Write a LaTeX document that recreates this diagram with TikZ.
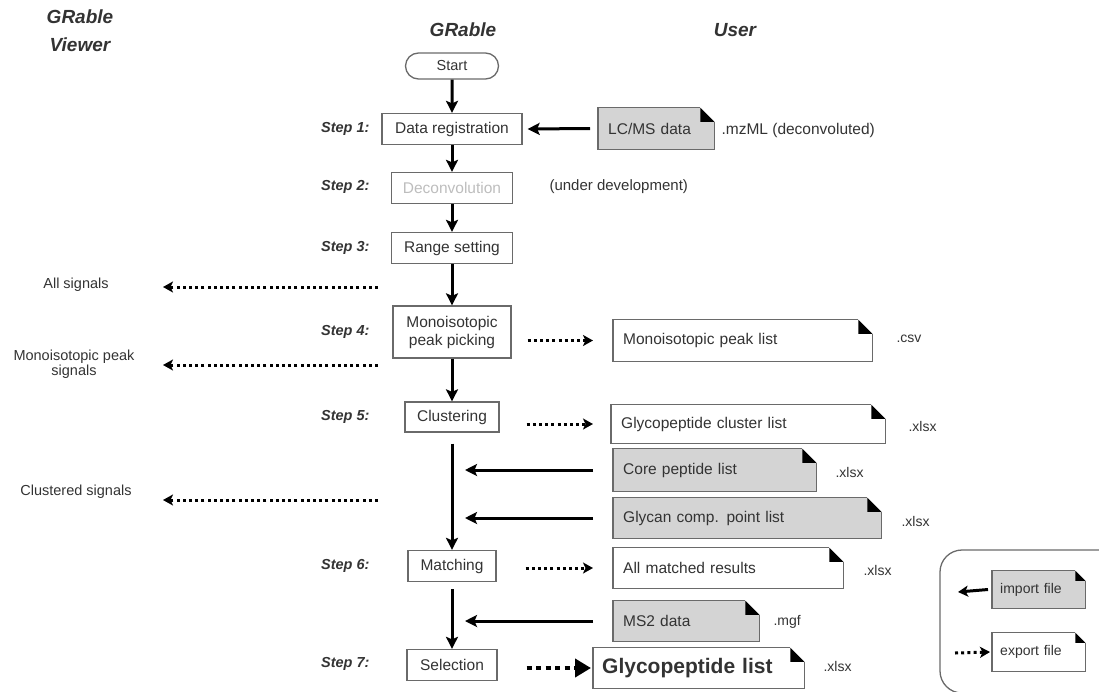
\documentclass[tikz,border=0pt]{standalone}
\usepackage{fontspec}
\setmainfont{Liberation Sans}
\usetikzlibrary{arrows.meta,shapes.misc,calc,backgrounds}
\definecolor{ln}{HTML}{6A6A6A}
\definecolor{tx}{HTML}{333333}
\definecolor{docfill}{HTML}{D4D4D4}
\definecolor{dim}{HTML}{BDBDBD}

\newcommand\docshape[3]{%
 \begin{scope}[on background layer]
 \fill[#2] (#1.south west) -- (#1.north west) -- ([xshift=-#3]#1.north east) -- ([yshift=-#3]#1.north east) -- (#1.south east) -- cycle;
 \draw[ln, line width=1.3pt, line join=miter] ([xshift=-#3]#1.north east) -- (#1.north west) -- (#1.south west) -- (#1.south east) -- ([yshift=-#3]#1.north east);
 \fill[black] ([xshift=-#3]#1.north east) -- ([xshift=-#3,yshift=-#3]#1.north east) -- ([yshift=-#3]#1.north east) -- cycle;
 \end{scope}}

\begin{document}
\begin{tikzpicture}[x=1pt,y=-1pt,
  every node/.style={text=tx},
  box/.style={draw=ln, line width=1.3pt, inner xsep=4pt, inner ysep=2pt, align=center, font=\fontsize{15.5}{17}\selectfont},
  startbox/.style={rounded rectangle, draw=ln, line width=1.3pt, minimum width=95pt, minimum height=26pt, inner sep=1pt, font=\fontsize{14.5}{16}\selectfont},
  doc/.style={anchor=west, inner xsep=10pt, inner ysep=2pt, align=left, font=\fontsize{15.5}{17}\selectfont},
  legdoc/.style={anchor=west, inner xsep=8pt, inner ysep=2pt, align=left, font=\fontsize{14}{15}\selectfont},
  steplbl/.style={anchor=east, font=\fontsize{14.5}{16}\selectfont\bfseries\itshape},
  header/.style={font=\fontsize{19}{28}\selectfont\bfseries\itshape, align=center},
  ext/.style={anchor=west, font=\fontsize{14}{15}\selectfont},
  side/.style={align=center, font=\fontsize{14.5}{15}\selectfont},
  arr/.style={line width=3pt, -{Stealth[length=12pt,width=12pt,inset=2.5pt]}},
  dotarr/.style={line width=3pt, dash pattern=on 3pt off 3.2pt, -{Stealth[length=10pt,width=11pt,inset=2.5pt]}},
  bigdot/.style={line width=4.5pt, dash pattern=on 5pt off 4.5pt, -{Triangle[length=16pt,width=18pt]}},
]
\clip (0,0) rectangle (1099,691);
\useasboundingbox (0,0) rectangle (1099,691);

% headers
\node[header] (hview) at (80,31) {GRable\\Viewer};
\node[header] (hgr) at (463,30) {GRable};
\node[header] (huser) at (735,30) {User};

% main flow
\node[startbox] (start) at (452,66) {Start};
\node[box, minimum width=140pt, minimum height=31pt] (dr) at (452,129) {Data registration};
\node[box, minimum width=121pt, minimum height=31pt, text=dim] (dec) at (452,188) {Deconvolution};
\node[box, minimum width=121pt, minimum height=31pt] (rng) at (452,248) {Range setting};
\node[box, minimum width=118pt, minimum height=52pt, font=\fontsize{15.5}{18}\selectfont] (mono) at (452,332) {Monoisotopic\\peak picking};
\node[box, minimum width=94pt, minimum height=30pt] (clu) at (452,417) {Clustering};
\node[box, minimum width=88pt, minimum height=31pt] (mat) at (452,566) {Matching};
\node[box, minimum width=90pt, minimum height=31pt] (sel) at (452,665) {Selection};

% step labels
\node[steplbl] (s1) at (373,129) {Step 1:};
\node[steplbl] (s2) at (373,187) {Step 2:};
\node[steplbl] (s3) at (373,248) {Step 3:};
\node[steplbl] (s4) at (373,332) {Step 4:};
\node[steplbl] (s5) at (373,417) {Step 5:};
\node[steplbl] (s6) at (373,566) {Step 6:};
\node[steplbl] (s7) at (373,664) {Step 7:};

% documents
\node[doc, text width=96pt, minimum height=41pt] (lcms) at (598,128.5) {LC/MS data};
\node[doc, text width=239pt, minimum height=41pt] (mlist) at (613,340.5) {Monoisotopic peak list};
\node[doc, text width=254pt, minimum height=38pt] (clist) at (611,424) {Glycopeptide cluster list};
\node[doc, text width=183pt, minimum height=42pt] (core) at (613,470) {Core peptide list};
\node[doc, text width=248pt, minimum height=40pt] (glycan) at (613,518) {Glycan comp. point list};
\node[doc, text width=210pt, minimum height=40pt] (allm) at (613,568) {All matched results};
\node[doc, text width=126pt, minimum height=40pt] (ms2) at (613,621) {MS2 data};
\node[doc, text width=193pt, minimum height=40pt, inner xsep=9pt, font=\fontsize{21}{23}\selectfont\bfseries] (glist) at (593,668) {Glycopeptide list};
\docshape{lcms}{docfill}{14pt}
\docshape{mlist}{white}{14pt}
\docshape{clist}{white}{14pt}
\docshape{core}{docfill}{14pt}
\docshape{glycan}{docfill}{14pt}
\docshape{allm}{white}{14pt}
\docshape{ms2}{docfill}{14pt}
\docshape{glist}{white}{14pt}

% extensions
\node[ext, font=\fontsize{15.5}{17}\selectfont] (e0) at (718,130) {.mzML (deconvoluted)};
\node[ext, font=\fontsize{15}{17}\selectfont] (eu) at (546,187) {(under development)};
\node[ext] (e1) at (893,339) {.csv};
\node[ext] (e2) at (905,426) {.xlsx};
\node[ext] (e3) at (832,472) {.xlsx};
\node[ext] (e4) at (898,521) {.xlsx};
\node[ext] (e5) at (860,570) {.xlsx};
\node[ext] (e6) at (770,622) {.mgf};
\node[ext] (e7) at (820,666) {.xlsx};

% viewer side labels
\node[side] (v1) at (76,285) {All signals};
\node[side, font=\fontsize{14.5}{15.5}\selectfont] (v2) at (74,364) {Monoisotopic peak\\signals};
\node[side] (v3) at (76,492) {Clustered signals};
\coordinate (v1s) at (378,287); \coordinate (v1e) at (163,287);
\coordinate (v2s) at (378,365); \coordinate (v2e) at (163,365);
\coordinate (v3s) at (378,500); \coordinate (v3e) at (163,500);
\draw[dotarr] (v1s) -- (v1e);
\draw[dotarr] (v2s) -- (v2e);
\draw[dotarr] (v3s) -- (v3e);

% main arrows
\draw[arr] (start) -- (dr);
\draw[arr] (dr) -- (dec);
\draw[arr] (dec) -- (rng);
\draw[arr] (rng) -- (mono);
\draw[arr] (mono) -- (clu);
\draw[arr] ([yshift=-11pt]clu.south) -- (mat.north);
\draw[arr] ([yshift=-7pt]mat.south) -- (sel.north);

% import arrows
\draw[arr] ([xshift=-8pt]lcms.west) -- ([xshift=5pt]dr.east);
\draw[arr] ([xshift=-20pt]core.west) -- ([xshift=13pt]core.west -| mat.north);
\draw[arr] ([xshift=-20pt]glycan.west) -- ([xshift=13pt]glycan.west -| mat.north);
\draw[arr] ([xshift=-20pt]ms2.west) -- ([xshift=13pt]ms2.west -| mat.north);

% export arrows
\draw[dotarr] ([xshift=16pt]mono.east |- mlist.west) -- ([xshift=-20pt]mlist.west);
\draw[dotarr] ([xshift=27pt]clu.east |- clist.west) -- ([xshift=-18pt]clist.west);
\draw[dotarr] ([xshift=29pt]mat.east |- allm.west) -- ([xshift=-20pt]allm.west);
\draw[bigdot] ([xshift=29pt]sel.east |- glist.west) -- ([xshift=-2pt]glist.west);

% legend
\draw[ln, line width=1.3pt, rounded corners=22pt] (940,550) rectangle (1160,693);
\node[legdoc, text width=77pt, minimum height=37pt] (limp) at (992,589.5) {import file};
\node[legdoc, text width=77pt, minimum height=38pt] (lexp) at (992,652) {export file};
\docshape{limp}{docfill}{10pt}
\docshape{lexp}{white}{10pt}
\coordinate (limpe) at (958,592);
\coordinate (lexps) at (955,653);
\draw[line width=3pt, -{Stealth[length=10pt,width=11pt,inset=2.5pt]}] ([xshift=-4pt]limp.west) -- (limpe);
\draw[dotarr] (lexps) -- ([xshift=-2pt]lexp.west);
\end{tikzpicture}
\end{document}
